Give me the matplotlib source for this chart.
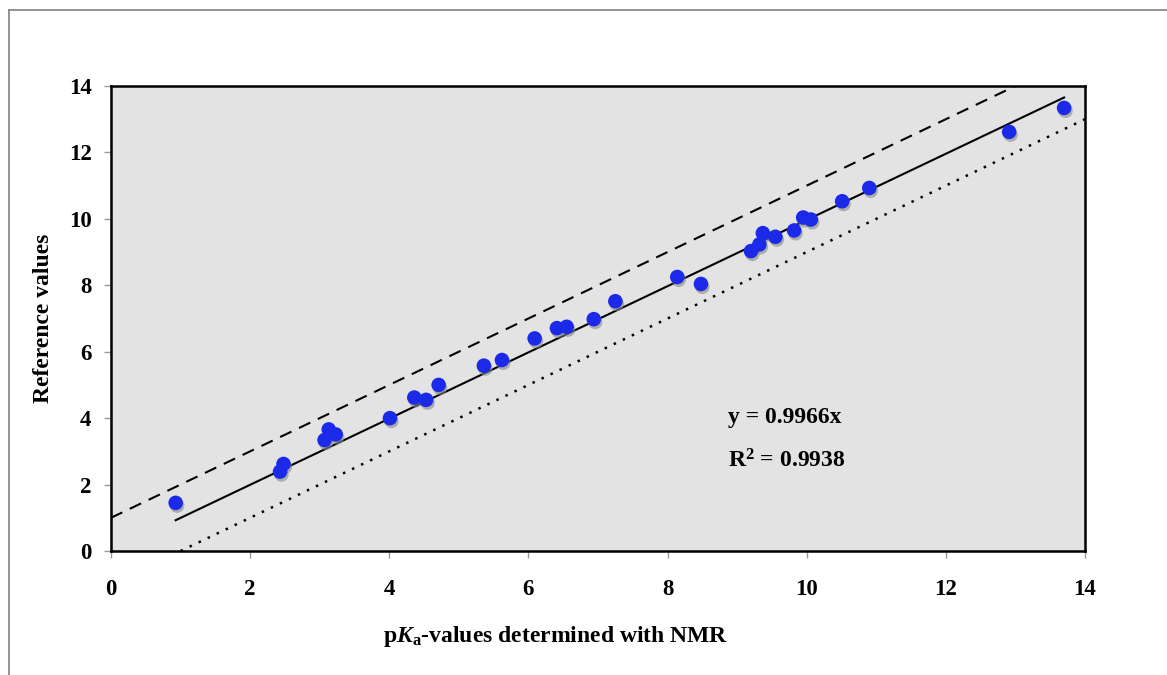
import numpy as np
import matplotlib
matplotlib.use('Agg')
import matplotlib.pyplot as plt
import matplotlib.patheffects as pe
from matplotlib.lines import Line2D

# data
pka_nmr = [0.93, 2.43, 2.48, 3.07, 3.13, 3.23, 4.01, 4.36, 4.53, 4.71,
           5.36, 5.62, 6.09, 6.41, 6.55, 6.94, 7.25, 8.14, 8.48,
           9.20, 9.32, 9.37, 9.55, 9.82, 9.95, 10.06, 10.51, 10.90,
           12.91, 13.70]
ref_values = [1.45, 2.39, 2.62, 3.34, 3.66, 3.51, 4.00, 4.62, 4.55, 5.00,
              5.58, 5.75, 6.40, 6.71, 6.75, 6.98, 7.52, 8.25, 8.04,
              9.03, 9.23, 9.57, 9.46, 9.65, 10.04, 9.98, 10.53, 10.93,
              12.62, 13.34]
slope = 0.9966
r2 = 0.9938
ticks = [0, 2, 4, 6, 8, 10, 12, 14]

plt.rcParams['font.family'] = ['Liberation Serif', 'DejaVu Serif']
plt.rcParams['font.weight'] = 'bold'
plt.rcParams['mathtext.fontset'] = 'custom'
plt.rcParams['mathtext.rm'] = 'Liberation Serif:bold'
plt.rcParams['mathtext.it'] = 'Liberation Serif:bold:italic'
plt.rcParams['mathtext.bf'] = 'Liberation Serif:bold'

fig = plt.figure(figsize=(11.67, 6.75), dpi=100)
ax = fig.add_axes([0.0951, 0.1837, 0.8346, 0.6889])
ax.set_facecolor('#e3e3e3')

# outer frame (top and left only)
fig.add_artist(Line2D([9/1167, 9/1167], [0, 1 - 10/675], color='#808080', lw=1.2))
fig.add_artist(Line2D([9/1167, 1], [1 - 10/675, 1 - 10/675], color='#808080', lw=1.2))

# regression line and +/- 1 bounds
xs = np.array([min(pka_nmr), max(pka_nmr)])
ax.plot(xs, slope * xs, color='black', lw=1.5, zorder=2)
xd = np.array([0, 13])
ax.plot(xd, xd + 1, color='black', lw=1.5, dashes=(6, 4), zorder=2)
xp = np.array([1, 14])
ax.plot(xp, xp - 1, color='black', lw=1.8, dashes=(1, 3), zorder=2)

shadow = [pe.SimplePatchShadow(offset=(1, -2), shadow_rgbFace='#888888', alpha=0.6), pe.Normal()]
ax.scatter(pka_nmr, ref_values, s=110, color='#1a2ae8', edgecolors='none', zorder=3,
           path_effects=shadow)

ax.set_xlim(0, 14)
ax.set_ylim(0, 14)
ax.set_xticks(ticks)
ax.set_yticks(ticks)
ax.tick_params(direction='out', length=5, width=1, color='#999999', labelsize=16.5)
ax.tick_params(axis='x', pad=15)
ax.tick_params(axis='y', pad=9)
for s in ax.spines.values():
    s.set_linewidth(1.8)

ax.text(0.633, 0.275, f'y = {slope}x', transform=ax.transAxes, fontsize=17, fontweight='bold')
ax.text(0.633, 0.18, f'R$^2$ = {r2}', transform=ax.transAxes, fontsize=17, fontweight='bold')

ax.set_xlabel(r'p$\it{K}$$_{\rm a}$-values determined with NMR', fontsize=17, fontweight='bold')
ax.xaxis.set_label_coords(0.457, -0.158)
ax.set_ylabel('Reference values', fontsize=17, fontweight='bold')
ax.yaxis.set_label_coords(-0.058, 0.5)

fig.savefig('out.png', dpi=100)
